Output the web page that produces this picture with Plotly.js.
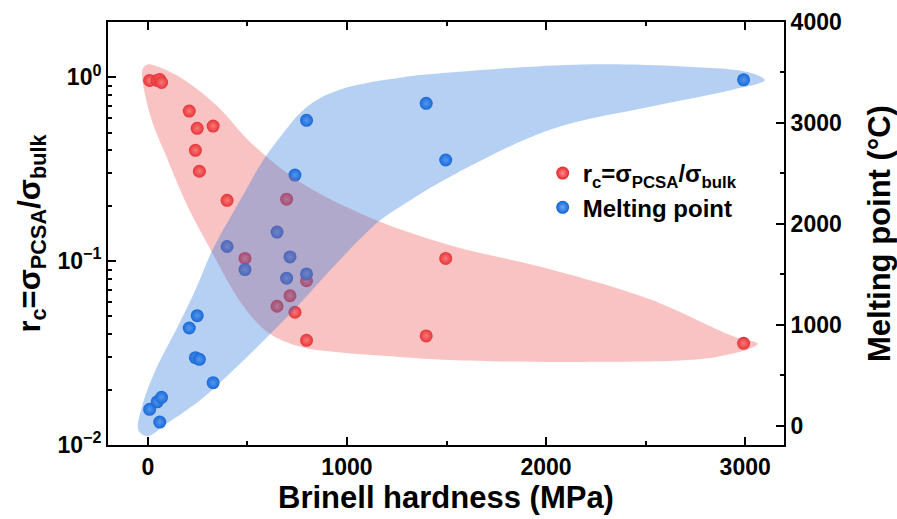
<!DOCTYPE html>
<html>
<head>
<meta charset="utf-8">
<script src="https://cdn.plot.ly/plotly-3.0.1.min.js"></script>
<style>html,body{margin:0;padding:0;background:#fff;}#chart{width:897px;height:519px;}</style>
</head>
<body>
<div id="chart"></div>
<script>
// Brinell hardness (MPa) of each element
const hardness = [9, 47, 60, 69, 208, 248, 239, 259, 328, 398, 488, 649, 697, 714, 739, 797, 797, 1398, 1496, 2992];
// r_c = sigma_PCSA / sigma_bulk (left, log axis)
const rcValues = [0.96, 0.96, 0.97, 0.936, 0.654, 0.527, 0.400, 0.308, 0.542, 0.214, 0.1034, 0.0568, 0.217, 0.0648, 0.0527, 0.0782, 0.0371, 0.0392, 0.1034, 0.0357];
// Melting point (°C) (right axis)
const meltingPoint = [163, 238, 37, 282, 969, 1091, 675, 659, 427, 1776, 1548, 1919, 1462, 1673, 2484, 1505, 3026, 3194, 2633, 3427];

// guide envelopes (hand-drawn shading in the figure)
const redBlobX  = [1267, 1518, 2185, 2857, 3063, 2937, 2521, 2020, 1518, 1102, 766, 516, 351, 179, 49, -2, -27, 14, 99, 199, 314, 465, 600, 766, 931, 1267];
const redBlobRc = [0.0301, 0.0290, 0.0283, 0.0301, 0.0355, 0.0392, 0.0621, 0.0904, 0.122, 0.175, 0.268, 0.442, 0.693, 0.972, 1.143, 1.172, 1.10, 0.611, 0.358, 0.199, 0.116, 0.060, 0.0412, 0.0342, 0.0321, 0.0301];
const blueBlobX  = [239, 325, 465, 581, 666, 766, 851, 1017, 1267, 1518, 2185, 2687, 3022, 3098, 2937, 2521, 2020, 1518, 1267, 1152, 931, 766, 600, 430, 264, 99, -2, -47, -27, 39, 154, 239];
const blueBlobMp = [1346, 1743, 2239, 2636, 2864, 3102, 3231, 3360, 3449, 3499, 3579, 3559, 3499, 3423, 3330, 3161, 2933, 2467, 2170, 2011, 1574, 1217, 880, 553, 255, 27, -102, -43, 205, 553, 999, 1346];

const X_RANGE = [-200, 3195];
const LOG_RANGE = [-2, 0.3];
const MP_RANGE = [-190, 4000];

// map a value of the left log axis onto the right linear axis (same pixel height)
function rcToMp(v) {
  const f = (Math.log10(v) - LOG_RANGE[0]) / (LOG_RANGE[1] - LOG_RANGE[0]);
  return MP_RANGE[0] + f * (MP_RANGE[1] - MP_RANGE[0]);
}

const FONT = 'Liberation Sans, Arial, Helvetica, sans-serif';
const rcLabel = 'r<sub>c</sub>=σ<sub>PCSA</sub>/σ<sub>bulk</sub>';

const traces = [
  {
    x: hardness, y: rcValues, type: 'scatter', mode: 'markers',
    name: rcLabel, xaxis: 'x', yaxis: 'y',
    marker: {size: 13, color: '#e3262b', gradient: {type: 'radial', color: '#ff8c8c'}, line: {width: 0}}
  },
  {
    x: hardness, y: meltingPoint, type: 'scatter', mode: 'markers',
    name: 'Melting point', xaxis: 'x', yaxis: 'y2',
    marker: {size: 13, color: '#1262d6', gradient: {type: 'radial', color: '#69a8f7'}, line: {width: 0}}
  },
  {
    x: redBlobX, y: redBlobRc.map(rcToMp), type: 'scatter', mode: 'lines',
    xaxis: 'x', yaxis: 'y2', fill: 'toself', fillcolor: 'rgba(238,84,84,0.35)',
    line: {width: 0, shape: 'spline', smoothing: 1, color: 'rgba(0,0,0,0)'},
    showlegend: false, hoverinfo: 'skip'
  },
  {
    x: blueBlobX, y: blueBlobMp, type: 'scatter', mode: 'lines',
    xaxis: 'x', yaxis: 'y2', fill: 'toself', fillcolor: 'rgba(44,121,218,0.35)',
    line: {width: 0, shape: 'spline', smoothing: 1, color: 'rgba(0,0,0,0)'},
    showlegend: false, hoverinfo: 'skip'
  }
];

const tickFont = {family: FONT, size: 23, color: '#000', weight: 'bold'};
const titleFont = {family: FONT, size: 31, color: '#000', weight: 'bold'};

const layout = {
  width: 897, height: 519,
  margin: {l: 108, r: 113, t: 22, b: 74},
  paper_bgcolor: '#fff', plot_bgcolor: '#fff',
  showlegend: true,
  legend: {
    x: 0.643, y: 0.695, xanchor: 'left', yanchor: 'top',
    bgcolor: 'rgba(0,0,0,0)', borderwidth: 0,
    font: {family: FONT, size: 24, color: '#000', weight: 'bold'},
    tracegroupgap: 0
  },
  xaxis: {
    range: X_RANGE, tick0: 0, dtick: 1000,
    ticks: 'inside', ticklen: 8, tickwidth: 2, tickcolor: '#000',
    minor: {dtick: 500, tick0: 0, ticks: 'inside', ticklen: 4, tickwidth: 2, tickcolor: '#000'},
    showline: true, linewidth: 2, linecolor: '#000', mirror: 'ticks',
    showgrid: false, zeroline: false,
    tickfont: tickFont,
    title: {text: 'Brinell hardness (MPa)', font: titleFont, standoff: 6}
  },
  yaxis: {
    type: 'log', range: LOG_RANGE,
    tickmode: 'array', tickvals: [0.01, 0.1, 1],
    ticktext: ['10<sup>−2</sup>', '10<sup>−1</sup>', '10<sup>0</sup>'],
    ticks: 'inside', ticklen: 8, tickwidth: 2, tickcolor: '#000',
    minor: {tickmode: 'array', tickvals: [0.02,0.03,0.04,0.05,0.06,0.07,0.08,0.09,0.2,0.3,0.4,0.5,0.6,0.7,0.8,0.9],
            ticks: 'inside', ticklen: 4, tickwidth: 2, tickcolor: '#000'},
    showline: true, linewidth: 2, linecolor: '#000', mirror: false,
    showgrid: false, zeroline: false,
    tickfont: tickFont,
    title: {text: rcLabel, font: titleFont, standoff: 8}
  },
  yaxis2: {
    overlaying: 'y', side: 'right', range: MP_RANGE,
    tick0: 0, dtick: 1000,
    ticks: 'inside', ticklen: 8, tickwidth: 2, tickcolor: '#000',
    minor: {dtick: 500, tick0: 0, ticks: 'inside', ticklen: 4, tickwidth: 2, tickcolor: '#000'},
    showline: true, linewidth: 2, linecolor: '#000',
    showgrid: false, zeroline: false,
    tickfont: tickFont,
    title: {text: 'Melting point (°C)', font: titleFont, standoff: 30}
  }
};

Plotly.newPlot('chart', traces, layout, {displayModeBar: false, staticPlot: true});
</script>
</body>
</html>
